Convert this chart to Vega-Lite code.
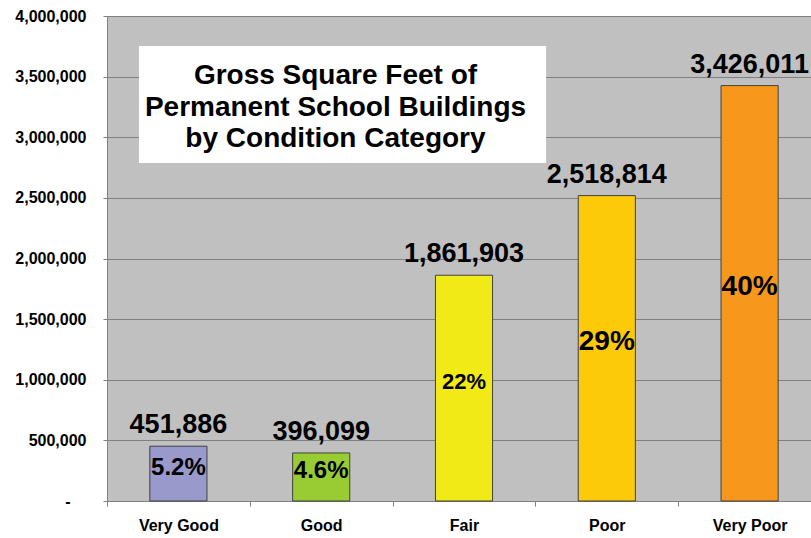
{
  "$schema": "https://vega.github.io/schema/vega-lite/v6.json",
  "autosize": {"type": "none"},
  "width": 704,
  "height": 485,
  "padding": {"left": 107, "top": 16, "right": 0, "bottom": 37},
  "background": "#FFFFFF",
  "config": {
    "view": {"fill": "#C0C0C0", "stroke": null},
    "font": "Liberation Sans",
    "axis": {"labelFont": "Liberation Sans", "labelFontWeight": "bold", "labelColor": "#000000"}
  },
  "data": {
    "values": [
      {"condition": "Very Good", "sqft": 451886, "pct": "5.2%"},
      {"condition": "Good", "sqft": 396099, "pct": "4.6%"},
      {"condition": "Fair", "sqft": 1861903, "pct": "22%"},
      {"condition": "Poor", "sqft": 2518814, "pct": "29%"},
      {"condition": "Very Poor", "sqft": 3426011, "pct": "40%"}
    ]
  },
  "layer": [
    {
      "encoding": {
        "x": {
          "field": "condition", "type": "nominal", "sort": null,
          "scale": {"domain": ["Very Good", "Good", "Fair", "Poor", "Very Poor"], "range": [0, 714], "paddingInner": 0, "paddingOuter": 0},
          "axis": {
            "title": null, "labelAngle": 0, "labelFontSize": 16, "labelPadding": 11,
            "tickBand": "extent", "tickColor": "#808080", "tickSize": 5,
            "domainColor": "#808080", "grid": false
          }
        },
        "y": {
          "field": "sqft", "type": "quantitative",
          "scale": {"domain": [0, 4000000], "nice": false},
          "axis": {
            "title": null, "tickCount": 8, "labelFontSize": 16,
            "labelPadding": {"condition": {"test": "datum.value === 0", "value": 33}, "value": 17},
            "labelExpr": "datum.value == 0 ? '-' : format(datum.value, ',')",
            "tickColor": "#808080", "tickSize": 4, "domainColor": "#808080",
            "grid": true, "gridColor": "#808080", "gridWidth": 1
          }
        }
      },
      "layer": [
        {
          "mark": {"type": "bar", "width": {"band": 0.4}, "stroke": "#404040", "strokeWidth": 1},
          "encoding": {
            "color": {
              "field": "condition", "type": "nominal",
              "scale": {"domain": ["Very Good", "Good", "Fair", "Poor", "Very Poor"], "range": ["#9999CC", "#99CC33", "#F2EA17", "#FDCA0A", "#F7981D"]},
              "legend": null
            }
          }
        },
        {
          "mark": {"type": "text", "fontSize": 27, "fontWeight": "bold", "baseline": "alphabetic", "dy": -13, "color": "#000000"},
          "encoding": {"text": {"field": "sqft", "type": "quantitative", "format": ","}}
        }
      ]
    },
    {
      "mark": {"type": "text", "fontWeight": "bold", "baseline": "middle", "dy": -6, "color": "#000000"},
      "encoding": {
        "x": {
          "field": "condition", "type": "nominal", "sort": null,
          "scale": {"domain": ["Very Good", "Good", "Fair", "Poor", "Very Poor"], "range": [0, 714], "paddingInner": 0, "paddingOuter": 0},
          "axis": null
        },
        "y": {"field": "sqft", "type": "quantitative", "scale": {"domain": [0, 8000000], "nice": false}, "axis": null},
        "size": {"field": "sqft", "type": "quantitative", "scale": {"type": "threshold", "domain": [1000000, 2000000], "range": [24, 22, 28]}, "legend": null},
        "text": {"field": "pct", "type": "nominal"}
      }
    },
    {
      "data": {"values": [{"label": "title"}]},
      "layer": [
        {
          "mark": {"type": "rect", "fill": "#FFFFFF"},
          "encoding": {
            "x": {"datum": 0.224, "type": "quantitative", "scale": {"domain": [0, 5], "range": [0, 714], "nice": false, "zero": false}, "axis": null},
            "x2": {"datum": 3.075},
            "y": {"datum": 3752577, "type": "quantitative", "scale": {"domain": [0, 4000000], "nice": false}, "axis": null},
            "y2": {"datum": 2787629}
          }
        },
        {
          "mark": {
            "type": "text", "text": ["Gross Square Feet of", "Permanent School Buildings", "by Condition Category"],
            "fontSize": 28, "fontWeight": "bold", "lineHeight": 31.5, "align": "center", "baseline": "middle", "color": "#000000"
          },
          "encoding": {
            "x": {"datum": 1.6, "type": "quantitative", "scale": {"domain": [0, 5], "range": [0, 714], "nice": false, "zero": false}, "axis": null},
            "y": {"datum": 3505000, "type": "quantitative", "scale": {"domain": [0, 4000000], "nice": false}, "axis": null}
          }
        }
      ]
    }
  ],
  "resolve": {"scale": {"x": "independent", "y": "independent", "size": "independent"}, "axis": {"x": "independent", "y": "independent"}}
}
